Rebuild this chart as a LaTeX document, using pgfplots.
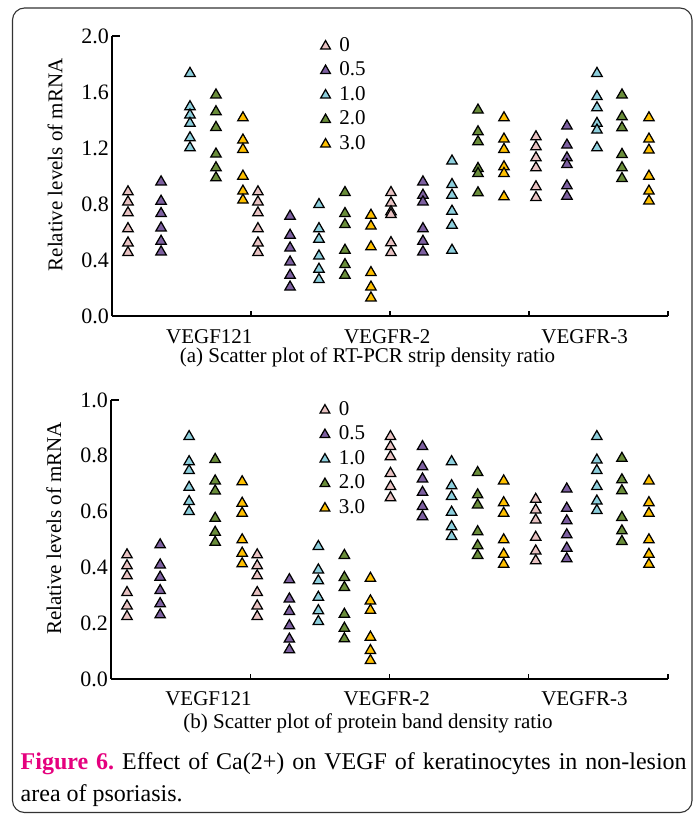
\documentclass[border=0pt]{standalone}
\usepackage{pgfplots}
\pgfplotsset{compat=1.18}
\usepackage{fontspec}
\setmainfont{Liberation Serif}
\definecolor{cpink}{HTML}{E8C2C2}
\definecolor{cpurple}{HTML}{7D60A0}
\definecolor{ccyan}{HTML}{8DCFDD}
\definecolor{cgreen}{HTML}{6A8D3A}
\definecolor{cyellow}{HTML}{FFC000}
\definecolor{cmag}{HTML}{E5007E}
\newcommand{\tf}{\fontsize{21}{25}\selectfont}
\newcommand{\tkf}{\fontsize{22}{26}\selectfont}
\pgfplotsset{
  myaxis/.style={
    scale only axis, anchor=south west,
    xmin=0, xmax=4, ymin=0,
    axis x line=bottom, axis y line=left,
    axis line style={-, line width=1.9pt, black},
    xtick={1,2,3,4}, xticklabels={},
    tick align=inside, major tick length=5pt,
    xtick style={line width=1.4pt, black},
    ytick style={draw=none},
    tick label style={font=\tkf},
    yticklabel style={inner xsep=3pt},
    /pgf/number format/fixed, /pgf/number format/fixed zerofill,
    /pgf/number format/precision=1, /pgf/number format/assume math mode=true,
    ylabel={Relative levels of mRNA},
    ylabel style={at={(axis description cs:-0.1025,0.54)}, anchor=center, font=\tf},
    clip=false,
    only marks,
    legend image post style={mark size=5.6pt},
    legend style={at={(rel axis cs:0.375,1.0)}, anchor=north west, draw=none, fill=none,
      font=\tf, row sep=4.5pt, column sep=8pt, inner sep=0pt,
      nodes={inner sep=1pt, text height=14pt, text depth=4pt}},
    legend cell align=left,
  },
  sp/.style={mark=triangle*, mark size=6pt, mark options={draw=black, line width=1.25pt, fill=#1}},
}
\begin{document}
\begin{tikzpicture}
\useasboundingbox (0pt,0pt) rectangle (699pt,-814pt);
\draw[rounded corners=12pt, line width=1.1pt, black!80] (12.5pt,-8pt) rectangle (692pt,-812.5pt);

\begin{axis}[myaxis, at={(112pt,-316pt)}, width=556pt, height=280pt, ymax=2,
  ytick={0,0.4,0.8,1.2,1.6,2.0}]
\addplot[sp=cpink] coordinates {
 (0.115,0.887) (0.115,0.815) (0.115,0.737) (0.115,0.624) (0.115,0.522) (0.115,0.453)
 (1.050,0.887) (1.050,0.815) (1.050,0.737) (1.050,0.624) (1.050,0.522) (1.050,0.453)
 (2.007,0.882) (2.007,0.808) (2.007,0.745) (2.007,0.725) (2.007,0.524) (2.007,0.453)
 (3.050,1.280) (3.050,1.209) (3.050,1.130) (3.050,1.059) (3.050,0.923) (3.050,0.846)};
\addplot[sp=cpurple] coordinates {
 (0.353,0.958) (0.353,0.820) (0.353,0.732) (0.353,0.629) (0.353,0.534) (0.353,0.458)
 (1.281,0.713) (1.281,0.577) (1.281,0.486) (1.281,0.386) (1.281,0.291) (1.281,0.207)
 (2.237,0.958) (2.237,0.863) (2.237,0.815) (2.237,0.624) (2.237,0.534) (2.237,0.458)
 (3.273,1.357) (3.273,1.221) (3.273,1.130) (3.273,1.082) (3.273,0.930) (3.273,0.856)};
\addplot[sp=ccyan] coordinates {
 (0.561,1.733) (0.561,1.495) (0.561,1.436) (0.561,1.376) (0.561,1.273) (0.561,1.202)
 (1.489,0.796) (1.489,0.624) (1.489,0.549) (1.489,0.429) (1.489,0.334) (1.489,0.260)
 (2.446,1.107) (2.446,0.939) (2.446,0.863) (2.446,0.749) (2.446,0.649) (2.446,0.470)
 (3.489,1.733) (3.489,1.567) (3.489,1.488) (3.489,1.376) (3.489,1.328) (3.489,1.202)};
\addplot[sp=cgreen] coordinates {
 (0.748,1.579) (0.748,1.459) (0.748,1.347) (0.748,1.157) (0.748,1.059) (0.748,0.987)
 (1.676,0.882) (1.676,0.732) (1.676,0.653) (1.676,0.470) (1.676,0.367) (1.676,0.291)
 (2.633,1.471) (2.633,1.316) (2.633,1.245) (2.633,1.054) (2.633,1.018) (2.633,0.880)
 (3.669,1.579) (3.669,1.423) (3.669,1.345) (3.669,1.154) (3.669,1.059) (3.669,0.982)};
\addplot[sp=cyellow] coordinates {
 (0.942,1.416) (0.942,1.257) (0.942,1.190) (0.942,0.999) (0.942,0.892) (0.942,0.828)
 (1.863,0.720) (1.863,0.642) (1.863,0.494) (1.863,0.310) (1.863,0.207) (1.863,0.129)
 (2.820,1.416) (2.820,1.264) (2.820,1.190) (2.820,1.066) (2.820,1.018) (2.820,0.851)
 (3.863,1.416) (3.863,1.264) (3.863,1.185) (3.863,0.999) (3.863,0.892) (3.863,0.822)};
\legend{0,0.5,1.0,2.0,3.0}
\draw[line width=1.9pt] (axis cs:0,2) -- ++(8pt,0pt);
\node[anchor=base, font=\tf] at ([yshift=-27pt]axis cs:0.70,0) {VEGF121};
\node[anchor=base, font=\tf] at ([yshift=-27pt]axis cs:1.98,0) {VEGFR-2};
\node[anchor=base, font=\tf] at ([yshift=-27pt]axis cs:3.40,0) {VEGFR-3};
\end{axis}

\begin{axis}[myaxis, at={(111pt,-679pt)}, width=557pt, height=279pt, ymax=1,
  ytick={0,0.2,0.4,0.6,0.8,1.0}]
\addplot[sp=cpink] coordinates {
 (0.115,0.445) (0.115,0.406) (0.115,0.370) (0.115,0.310) (0.115,0.262) (0.115,0.224)
 (1.050,0.445) (1.050,0.406) (1.050,0.370) (1.050,0.310) (1.050,0.262) (1.050,0.224)
 (2.007,0.869) (2.007,0.833) (2.007,0.797) (2.007,0.737) (2.007,0.690) (2.007,0.650)
 (3.050,0.644) (3.050,0.606) (3.050,0.570) (3.050,0.508) (3.050,0.459) (3.050,0.424)};
\addplot[sp=cpurple] coordinates {
 (0.353,0.481) (0.353,0.409) (0.353,0.365) (0.353,0.317) (0.353,0.270) (0.353,0.230)
 (1.281,0.356) (1.281,0.287) (1.281,0.242) (1.281,0.191) (1.281,0.143) (1.281,0.105)
 (2.237,0.833) (2.237,0.761) (2.237,0.717) (2.237,0.669) (2.237,0.618) (2.237,0.582)
 (3.273,0.681) (3.273,0.612) (3.273,0.567) (3.273,0.517) (3.273,0.469) (3.273,0.431)};
\addplot[sp=ccyan] coordinates {
 (0.561,0.869) (0.561,0.779) (0.561,0.747) (0.561,0.687) (0.561,0.636) (0.561,0.600)
 (1.489,0.475) (1.489,0.391) (1.489,0.352) (1.489,0.293) (1.489,0.245) (1.489,0.206)
 (2.446,0.779) (2.446,0.693) (2.446,0.654) (2.446,0.598) (2.446,0.546) (2.446,0.511)
 (3.489,0.869) (3.489,0.785) (3.489,0.747) (3.489,0.690) (3.489,0.638) (3.489,0.604)};
\addplot[sp=cgreen] coordinates {
 (0.748,0.787) (0.748,0.710) (0.748,0.674) (0.748,0.576) (0.748,0.526) (0.748,0.490)
 (1.676,0.443) (1.676,0.364) (1.676,0.328) (1.676,0.232) (1.676,0.182) (1.676,0.144)
 (2.633,0.740) (2.633,0.660) (2.633,0.624) (2.633,0.528) (2.633,0.478) (2.633,0.443)
 (3.669,0.791) (3.669,0.714) (3.669,0.675) (3.669,0.579) (3.669,0.531) (3.669,0.493)};
\addplot[sp=cyellow] coordinates {
 (0.942,0.707) (0.942,0.630) (0.942,0.594) (0.942,0.499) (0.942,0.451) (0.942,0.413)
 (1.863,0.361) (1.863,0.280) (1.863,0.246) (1.863,0.150) (1.863,0.102) (1.863,0.066)
 (2.820,0.710) (2.820,0.632) (2.820,0.594) (2.820,0.499) (2.820,0.447) (2.820,0.411)
 (3.863,0.710) (3.863,0.632) (3.863,0.594) (3.863,0.499) (3.863,0.447) (3.863,0.411)};
\legend{0,0.5,1.0,2.0,3.0}
\draw[line width=1.9pt] (axis cs:0,1) -- ++(8pt,0pt);
\node[anchor=base, font=\tf] at ([yshift=-26pt]axis cs:0.70,0) {VEGF121};
\node[anchor=base, font=\tf] at ([yshift=-26pt]axis cs:1.98,0) {VEGFR-2};
\node[anchor=base, font=\tf] at ([yshift=-26pt]axis cs:3.40,0) {VEGFR-3};
\end{axis}

\node[anchor=base, font=\tf] at (367.5pt,-362pt) {(a) Scatter plot of RT-PCR strip density ratio};
\node[anchor=base, font=\tf] at (368pt,-728pt) {(b) Scatter plot of protein band density ratio};
\node[anchor=base west, inner sep=0pt] at (20.5pt,-769.3pt) {\parbox[t]{666pt}{\fontsize{24}{31.7}\selectfont\hyphenpenalty=10000\frenchspacing
 \leavevmode{\color{cmag}\bfseries Figure 6.} Effect of Ca(2+) on VEGF of keratinocytes in non-lesion\linebreak area of psoriasis.}};
\end{tikzpicture}
\end{document}
